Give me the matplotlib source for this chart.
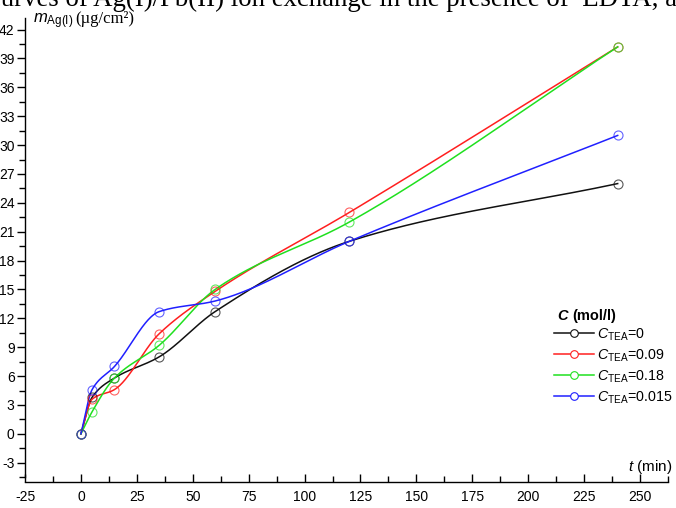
import numpy as np
import matplotlib
matplotlib.use("Agg")
import matplotlib.pyplot as plt
from matplotlib.lines import Line2D

plt.rcParams["font.family"] = ["Liberation Sans", "DejaVu Sans"]
plt.rcParams["mathtext.fontset"] = "custom"
plt.rcParams["mathtext.rm"] = "Liberation Sans"
plt.rcParams["mathtext.it"] = "Liberation Sans:italic"
plt.rcParams["mathtext.bf"] = "Liberation Sans:bold"
plt.rcParams["axes.unicode_minus"] = False

# Sampling times (min) and sorbed silver mass (ug/cm2) for each TEA concentration
t_min = [0, 5, 15, 35, 60, 120, 240]
m_tea_0 = [0, 3.8, 5.8, 8.0, 12.7, 20.0, 26.0]
m_tea_009 = [0, 3.6, 4.6, 10.4, 14.8, 23.0, 40.2]
m_tea_018 = [0, 2.3, 5.8, 9.2, 15.0, 22.0, 40.2]
m_tea_0015 = [0, 4.6, 7.0, 12.7, 13.8, 20.0, 31.0]

series_labels = ["0", "0.09", "0.18", "0.015"]
series_colors = ["#111111", "#ff1f1f", "#1fe01f", "#2020ff"]
x_ticks = list(range(-25, 251, 25))
y_ticks = list(range(-3, 43, 3))


def pchip(x, y, n=800):
    """Shape-preserving cubic Hermite curve through the points
    (end slopes taken from the end chords)."""
    x = np.asarray(x, float)
    y = np.asarray(y, float)
    h = np.diff(x)
    delta = np.diff(y) / h
    k = len(x)
    d = np.zeros(k)
    for i in range(1, k - 1):
        if delta[i - 1] * delta[i] > 0:
            w1 = 2 * h[i] + h[i - 1]
            w2 = h[i] + 2 * h[i - 1]
            d[i] = (w1 + w2) / (w1 / delta[i - 1] + w2 / delta[i])
    d[0] = delta[0]
    d[-1] = delta[-1]
    xs = np.linspace(x[0], x[-1], n)
    idx = np.clip(np.searchsorted(x, xs) - 1, 0, k - 2)
    hh = h[idx]
    s = (xs - x[idx]) / hh
    h00 = 2 * s ** 3 - 3 * s ** 2 + 1
    h10 = s ** 3 - 2 * s ** 2 + s
    h01 = -2 * s ** 3 + 3 * s ** 2
    h11 = s ** 3 - s ** 2
    ys = h00 * y[idx] + h10 * hh * d[idx] + h01 * y[idx + 1] + h11 * hh * d[idx + 1]
    return xs, ys


W, H = 676, 508
fig = plt.figure(figsize=(W / 100, H / 100), dpi=100)
ax = fig.add_axes([25 / W, (H - 482) / H, (668 - 25) / W, (482 - 18) / H])

handles = []
for vals, lab, col in zip([m_tea_0, m_tea_009, m_tea_018, m_tea_0015],
                          series_labels, series_colors):
    xs, ys = pchip(t_min, vals)
    ax.plot(xs, ys, color=col, lw=1.1, zorder=3)
    ax.plot(t_min, vals, ls="none", marker="o", ms=6.5, mfc="none",
            mec=col, mew=0.8, alpha=0.7, zorder=4)
    handles.append(Line2D([], [], color=col, lw=1.1, marker="o", ms=5.5,
                          mfc="white", mec=col, mew=0.8))

ax.set_xlim(-25, 262.5)
ax.set_ylim(-5, 43.2)
for s in ["top", "right"]:
    ax.spines[s].set_visible(False)
ax.spines["left"].set_bounds(-4.5, 43.2)
ax.spines["bottom"].set_bounds(-25, 262.5)
for s in ["left", "bottom"]:
    ax.spines[s].set_linewidth(1.0)

ax.set_xticks(x_ticks)
ax.set_xticks(np.arange(-12.5, 263, 25), minor=True)
ax.set_yticks(y_ticks)
ax.set_yticks(np.arange(-4.5, 43, 3), minor=True)
ax.tick_params(axis="x", which="both", direction="in", labelsize=10, pad=6)
ax.tick_params(axis="x", which="major", length=6, width=1.0)
ax.tick_params(axis="x", which="minor", length=4, width=1.0)
ax.tick_params(axis="y", which="both", direction="out", labelsize=10, pad=1.5)
ax.tick_params(axis="y", which="major", length=6, width=1.0)
ax.tick_params(axis="y", which="minor", length=4, width=1.0)

# Axis titles
fig.text(33 / W, 1 - 23 / H, r"$m_{\rm Ag(I)}$", fontsize=12, va="baseline")
fig.text(75 / W, 1 - 23 / H, "(\u00b5g/cm\u00b2)", fontsize=12,
         family="Liberation Serif", va="baseline")
fig.text(672 / W, 1 - 471 / H, r"$t$ (min)", fontsize=11, ha="right",
         va="baseline")

# Running heading of the page, partly cut by the top edge
fig.text(-11 / W, 1 - 6 / H,
         "curves of Ag(I)/Pb(II) ion exchange in the presence of  EDTA, at",
         fontsize=19.3, family="Liberation Serif", va="baseline")

# Legend
fig.text(557 / W, 1 - 320 / H, "C", fontsize=10.5, fontweight="bold",
         fontstyle="italic", va="baseline")
fig.text(572 / W, 1 - 320 / H, "(mol/l)", fontsize=10.5, fontweight="bold",
         va="baseline")
leg = ax.legend(handles, [r"$C_{\rm TEA}$=" + s for s in series_labels],
                loc="upper left", bbox_to_anchor=(550 / W, 1 - 322 / H),
                bbox_transform=fig.transFigure, frameon=False, fontsize=10.3,
                handlelength=2.8, handletextpad=0.2, labelspacing=0.32,
                borderaxespad=0, borderpad=0.3)

fig.savefig("out.png", dpi=100)
